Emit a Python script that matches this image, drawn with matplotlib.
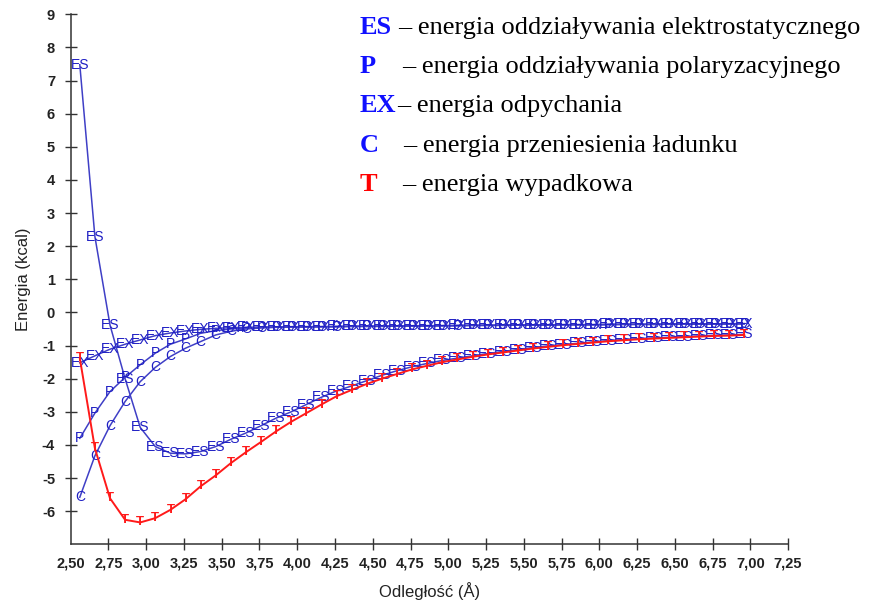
import matplotlib
matplotlib.use('Agg')
import matplotlib.pyplot as plt
from matplotlib.ticker import FuncFormatter

# odległość (Å) - wspólna siatka punktów
distance = [2.56, 2.66, 2.76, 2.86, 2.96, 3.06, 3.16, 3.26, 3.36, 3.46,
            3.56, 3.66, 3.76, 3.86, 3.96, 4.06, 4.16, 4.26, 4.36, 4.46,
            4.56, 4.66, 4.76, 4.86, 4.96, 5.06, 5.16, 5.26, 5.36, 5.46,
            5.56, 5.66, 5.76, 5.86, 5.96, 6.06, 6.16, 6.26, 6.36, 6.46,
            6.56, 6.66, 6.76, 6.86, 6.96]

# energie (kcal)
es = [7.48, 2.29, -0.38, -2.00, -3.47, -4.05, -4.25, -4.27, -4.20, -4.05,
      -3.83, -3.64, -3.42, -3.19, -3.00, -2.78, -2.56, -2.37, -2.22, -2.06,
      -1.90, -1.76, -1.64, -1.54, -1.45, -1.38, -1.31, -1.24, -1.18, -1.12,
      -1.06, -1.01, -0.97, -0.93, -0.89, -0.85, -0.82, -0.79, -0.77, -0.75,
      -0.73, -0.71, -0.69, -0.68, -0.66]
ex = [-1.52, -1.31, -1.11, -0.96, -0.83, -0.70, -0.62, -0.56, -0.51, -0.48,
      -0.46, -0.45, -0.44, -0.44, -0.43, -0.43, -0.43, -0.42, -0.42, -0.42,
      -0.41, -0.41, -0.40, -0.40, -0.40, -0.39, -0.39, -0.39, -0.38, -0.38,
      -0.38, -0.37, -0.37, -0.37, -0.37, -0.36, -0.36, -0.36, -0.36, -0.35,
      -0.35, -0.35, -0.35, -0.34, -0.34]
pol = [-3.80, -3.04, -2.39, -1.96, -1.58, -1.23, -0.96, -0.80, -0.63, -0.55,
       -0.50, -0.47, -0.45, -0.44, -0.44, -0.43, -0.43, -0.43, -0.42, -0.42,
       -0.42, -0.41, -0.41, -0.40, -0.40, -0.40, -0.39, -0.39, -0.39, -0.38,
       -0.38, -0.38, -0.37, -0.37, -0.37, -0.37, -0.36, -0.36, -0.36, -0.36,
       -0.35, -0.35, -0.35, -0.35, -0.34]
ct = [-5.58, -4.33, -3.42, -2.69, -2.09, -1.66, -1.33, -1.08, -0.88, -0.68,
      -0.57, -0.50, -0.47, -0.45, -0.44, -0.44, -0.43, -0.43, -0.42, -0.42,
      -0.42, -0.41, -0.41, -0.41, -0.40, -0.40, -0.39, -0.39, -0.39, -0.38,
      -0.38, -0.38, -0.37, -0.37, -0.37, -0.36, -0.36, -0.36, -0.36, -0.35,
      -0.35, -0.35, -0.35, -0.34, -0.34]
total = [-1.38, -4.10, -5.61, -6.26, -6.34, -6.21, -5.96, -5.64, -5.25, -4.92,
         -4.55, -4.22, -3.91, -3.59, -3.30, -3.04, -2.78, -2.53, -2.34, -2.16,
         -2.00, -1.86, -1.72, -1.61, -1.50, -1.42, -1.34, -1.27, -1.21, -1.15,
         -1.09, -1.04, -0.99, -0.95, -0.91, -0.87, -0.84, -0.81, -0.79, -0.77,
         -0.75, -0.73, -0.71, -0.70, -0.68]

series_keys = ['ES', 'P', 'EX', 'C', 'T']
series_vals = [es, pol, ex, ct, total]
descriptions = ['– energia oddziaływania elektrostatycznego',
                '– energia oddziaływania polaryzacyjnego',
                '– energia odpychania',
                '– energia przeniesienia ładunku',
                '– energia wypadkowa']

xticks = [2.50, 2.75, 3.00, 3.25, 3.50, 3.75, 4.00, 4.25, 4.50, 4.75,
          5.00, 5.25, 5.50, 5.75, 6.00, 6.25, 6.50, 6.75, 7.00, 7.25]
yticks = [-6, -5, -4, -3, -2, -1, 0, 1, 2, 3, 4, 5, 6, 7, 8, 9]

BLUE_LINE = '#3f3fc6'
BLUE_TXT = '#1f1fc4'
RED = '#ff1a1a'

plt.rcParams['font.family'] = ['Liberation Sans', 'DejaVu Sans']

fig = plt.figure(figsize=(8.7, 6.07), dpi=100)
ax = fig.add_axes([0.0813, 0.1033, 0.8245, 0.8731])

# rysujemy linie i literki jako znaczniki
for key, vals in zip(series_keys, series_vals):
    if key == 'T':
        continue
    ax.plot(distance, vals, color=BLUE_LINE, linewidth=1.1, zorder=2)
    for xv, yv in zip(distance, vals):
        ax.text(xv, yv, key, fontsize=10, color=BLUE_TXT, ha='center', va='center', zorder=3)

ax.plot(distance, total, color=RED, linewidth=1.4, zorder=4)
for xv, yv in zip(distance, total):
    ax.text(xv, yv, 'T', fontsize=9.5, fontweight='bold', color=RED,
            ha='center', va='center', zorder=5)

ax.set_xlim(2.5, 7.25)
ax.set_ylim(-7, 9)
for side in ['top', 'right']:
    ax.spines[side].set_visible(False)
for side in ['left', 'bottom']:
    ax.spines[side].set_linewidth(1.1)
    ax.spines[side].set_color('#333333')

ax.set_xticks(xticks)
ax.set_yticks(yticks)
ax.xaxis.set_major_formatter(FuncFormatter(lambda v, p: f'{v:.2f}'.replace('.', ',')))
ax.yaxis.set_major_formatter(FuncFormatter(lambda v, p: f'{int(round(v))}'))
ax.tick_params(axis='both', direction='inout', length=8.5, width=1.0, color='#333333',
               labelsize=10.5, labelcolor='#222222')
ax.tick_params(axis='x', pad=4.5)
ax.tick_params(axis='y', pad=7)
ax.xaxis.get_major_ticks()[0].tick1line.set_visible(False)
for lbl in ax.get_xticklabels() + ax.get_yticklabels():
    lbl.set_fontweight('bold')

ax.set_xlabel('Odległość (Å)', fontsize=12, color='#222222')
ax.set_ylabel('Energia (kcal)', fontsize=12, color='#222222')
ax.xaxis.set_label_coords(0.5, -0.072)
ax.yaxis.set_label_coords(-0.055, 0.5)

# opis oznaczeń w prawym górnym rogu
legend_colors = ['#1010ff', '#1010ff', '#1010ff', '#1010ff', '#ff0000']
dash_x = [398, 402, 397, 403, 402]
baselines = [34, 73, 112, 152, 191]
for key, desc, col, dx, by in zip(series_keys, descriptions, legend_colors, dash_x, baselines):
    fig.text(360 / 870, 1 - by / 607, key, fontsize=19, fontweight='bold', color=col,
             family=['Liberation Serif'], ha='left', va='baseline')
    fig.text(dx / 870, 1 - by / 607, desc, fontsize=19, color='black',
             family=['Liberation Serif'], ha='left', va='baseline')

fig.savefig('out.png', dpi=100)
